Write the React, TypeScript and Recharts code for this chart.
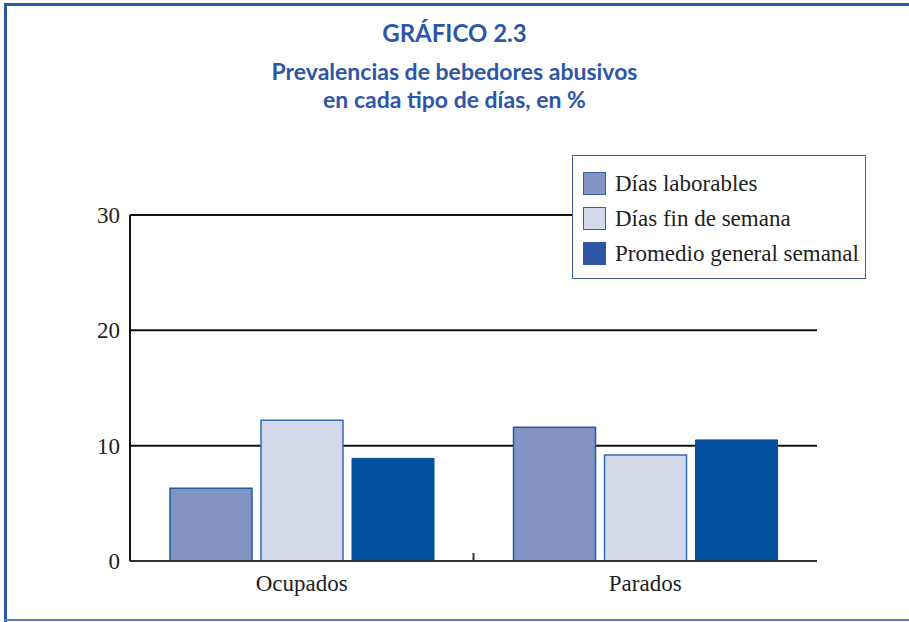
import React from "react";
import { BarChart, Bar, XAxis, YAxis, CartesianGrid, Legend, ReferenceLine } from "recharts";

const categories = ["Ocupados", "Parados"];
const diasLaborables = [6.3, 11.6];
const diasFinSemana = [12.2, 9.2];
const promedioSemanal = [8.9, 10.5];
const yTicks = [0, 10, 20, 30];

const seriesNames = ["Días laborables", "Días fin de semana", "Promedio general semanal"];

const data = categories.map((c, i) => ({
  name: c,
  lab: diasLaborables[i],
  fin: diasFinSemana[i],
  prom: promedioSemanal[i],
}));

const BLUE = "#2E56A6";
const SERIF = "'Liberation Serif', 'DejaVu Serif', serif";

const legendItems = [
  { label: seriesNames[0], fill: "#8394C6", stroke: "#3A5FA8" },
  { label: seriesNames[1], fill: "#D4D9EC", stroke: "#3A5FA8" },
  { label: seriesNames[2], fill: "#2F55A4", stroke: "#2F55A4" },
];

const LegendBox = () => (
  <div
    style={{
      width: 294,
      height: 124,
      border: "1.5px solid #3A5FA8",
      background: "#fff",
      boxSizing: "border-box",
      paddingTop: 10,
      paddingLeft: 10,
    }}
  >
    {legendItems.map((it) => (
      <div key={it.label} style={{ display: "flex", alignItems: "center", height: 35 }}>
        <div
          style={{
            width: 21,
            height: 21,
            background: it.fill,
            border: `1.5px solid ${it.stroke}`,
            marginRight: 9,
            flexShrink: 0,
          }}
        />
        <span style={{ fontFamily: SERIF, fontSize: 23, color: "#222", whiteSpace: "nowrap" }}>{it.label}</span>
      </div>
    ))}
  </div>
);

const BoundaryTick = (p: any) => {
  const x = p.x1 ?? (p.points && p.points[0] ? p.points[0].x : 0);
  const ys = [p.y1, p.y2].filter((v: any) => typeof v === "number");
  const yb = ys.length ? Math.max(...ys) : 0;
  return <line x1={x} x2={x} y1={yb} y2={yb - 8} stroke="#333" strokeWidth={2} />;
};

export default function App() {
  return (
    <div style={{ position: "absolute", left: 0, top: 0, width: 909, height: 622, background: "#fff", overflow: "hidden" }}>
      <div style={{ position: "absolute", left: 4, top: 3, width: 905, height: 3, background: BLUE }} />
      <div style={{ position: "absolute", left: 4, top: 3, width: 3, height: 619, background: BLUE }} />
      <div style={{ position: "absolute", left: 4, top: 619, width: 905, height: 2, background: "#5A7BBF" }} />
      <div
        style={{
          position: "absolute",
          left: 0,
          width: 909,
          top: 18,
          textAlign: "center",
          fontFamily: "Lato, 'Open Sans', sans-serif",
          fontWeight: 700,
          color: BLUE,
        }}
      >
        <div style={{ fontSize: 24, lineHeight: "30px" }}>GRÁFICO 2.3</div>
        <div style={{ fontSize: 23, lineHeight: "28px", marginTop: 9 }}>Prevalencias de bebedores abusivos</div>
        <div style={{ fontSize: 23, lineHeight: "28px" }}>en cada tipo de días, en %</div>
      </div>
      <div style={{ position: "absolute", left: 0, top: 0 }}>
        <BarChart
          width={909}
          height={622}
          data={data}
          margin={{ top: 215, right: 92, left: 70, bottom: 31 }}
          barCategoryGap={40}
          barGap={9}
        >
          <CartesianGrid horizontal vertical={false} stroke="#111" strokeWidth={2} />
          <XAxis
            dataKey="name"
            height={30}
            axisLine={{ stroke: "#333", strokeWidth: 2 }}
            tickLine={false}
            tick={{ fontFamily: SERIF, fontSize: 23, fill: "#222" }}
            tickMargin={8}
          />
          <YAxis
            width={60}
            domain={[0, 30]}
            ticks={yTicks}
            axisLine={{ stroke: "#111", strokeWidth: 2 }}
            tickLine={false}
            tick={{ fontFamily: SERIF, fontSize: 23, fill: "#222" }}
            tickMargin={4}
          />
          <YAxis
            yAxisId="r"
            orientation="right"
            width={0}
            domain={[0, 30]}
            ticks={yTicks}
            axisLine={{ stroke: "#444", strokeWidth: 2 }}
            tick={false}
            tickLine={false}
          />
          <ReferenceLine x={categories[0]} position="end" shape={<BoundaryTick />} />
          <Legend
            layout="horizontal"
            verticalAlign="middle"
            align="center"
            content={<LegendBox />}
            wrapperStyle={{ position: "absolute", left: 572, top: 155, width: 294 }}
          />
          <Bar dataKey="lab" name={seriesNames[0]} fill="#8293C4" stroke="#1F5BA6" strokeWidth={1.5} isAnimationActive={false} />
          <Bar dataKey="fin" name={seriesNames[1]} fill="#D3D8EB" stroke="#2F6BB5" strokeWidth={1.5} isAnimationActive={false} />
          <Bar dataKey="prom" name={seriesNames[2]} fill="#02529F" stroke="#02529F" strokeWidth={1} isAnimationActive={false} />
        </BarChart>
      </div>
    </div>
  );
}
